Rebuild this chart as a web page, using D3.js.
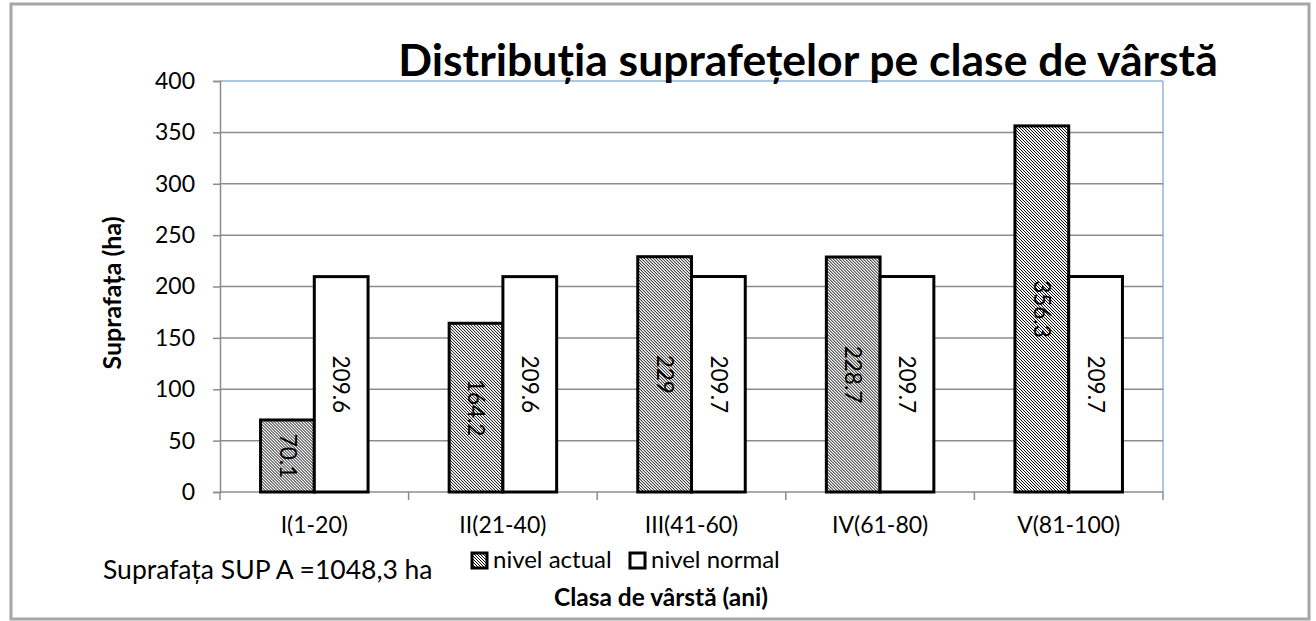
<!DOCTYPE html>
<html>
<head>
<meta charset="utf-8">
<script src="https://cdn.jsdelivr.net/npm/d3@7"></script>
<style>
  body { margin: 0; background: #fff; }
  text { font-family: Lato, "Open Sans", sans-serif; fill: #000; }
</style>
</head>
<body>
<div id="chart"></div>
<script>

// Date
var categories = ["I(1-20)", "II(21-40)", "III(41-60)", "IV(61-80)", "V(81-100)"];
var nivelActual = [70.1, 164.2, 229, 228.7, 356.3];
var nivelNormal = [209.6, 209.6, 209.7, 209.7, 209.7];
var actualLabels = ["70.1", "164.2", "229", "228.7", "356.3"];
var normalLabels = ["209.6", "209.6", "209.7", "209.7", "209.7"];
var yTicks = [0, 50, 100, 150, 200, 250, 300, 350, 400];
var seriesNames = ["nivel actual", "nivel normal"];

var width = 1316, height = 621;
var margin = { top: 81, right: 153, bottom: 129, left: 220 };

var svg = d3.select("#chart")
  .append("svg")
  .attr("width", width)
  .attr("height", height);

// hasura pentru seria "nivel actual" (diagonale fine in pixeli)
var tile = 3;
var defs = svg.append("defs");
var pat = defs.append("pattern")
  .attr("id", "hatch")
  .attr("patternUnits", "userSpaceOnUse")
  .attr("width", tile)
  .attr("height", tile);
pat.append("rect").attr("width", tile).attr("height", tile).attr("fill", "#fff");
d3.range(tile).forEach(function(i) {
  pat.append("rect")
    .attr("x", i).attr("y", i)
    .attr("width", 1).attr("height", 1)
    .attr("fill", "#000")
    .attr("shape-rendering", "crispEdges");
});

// chenarul exterior
svg.append("rect")
  .attr("x", 11).attr("y", 4)
  .attr("width", 1298).attr("height", 615)
  .attr("fill", "none")
  .attr("stroke", "#a6a6a6")
  .attr("stroke-width", 3);

var x = d3.scaleBand()
  .domain(categories)
  .range([margin.left, width - margin.right])
  .paddingInner(0.43)
  .paddingOuter(0.215);

var xSub = d3.scaleBand()
  .domain(seriesNames)
  .range([0, x.bandwidth()]);

var y = d3.scaleLinear()
  .domain([0, 400])
  .range([height - margin.bottom, margin.top]);

// zona graficului: margini albastre sus si dreapta
svg.append("line")
  .attr("x1", margin.left).attr("x2", width - margin.right)
  .attr("y1", y(400)).attr("y2", y(400))
  .attr("stroke", "#95b3d7").attr("stroke-width", 1.5);
svg.append("line")
  .attr("x1", width - margin.right).attr("x2", width - margin.right)
  .attr("y1", y(400)).attr("y2", y(0))
  .attr("stroke", "#95b3d7").attr("stroke-width", 1.5);

// linii de grila
svg.append("g")
  .selectAll("line")
  .data(yTicks.filter(function(d) { return d > 0 && d < 400; }))
  .enter()
  .append("line")
  .attr("x1", margin.left).attr("x2", width - margin.right)
  .attr("y1", function(d) { return y(d); })
  .attr("y2", function(d) { return y(d); })
  .attr("stroke", "#8c8c8c")
  .attr("stroke-width", 1.5);

// axa Y
var yAxis = svg.append("g")
  .attr("transform", "translate(" + margin.left + ",0)")
  .call(d3.axisLeft(y).tickValues(yTicks).tickSize(7).tickPadding(18));
yAxis.select(".domain").attr("stroke", "#8c8c8c").attr("stroke-width", 1.5);
yAxis.selectAll(".tick line").attr("stroke", "#8c8c8c").attr("stroke-width", 1.5);
yAxis.selectAll("text")
  .style("font-size", "23px")
  .style("font-family", "Lato, 'Open Sans', sans-serif")
  .attr("fill", "#000");

// axa X
var xAxis = svg.append("g")
  .attr("transform", "translate(0," + y(0) + ")")
  .call(d3.axisBottom(x).tickSize(0));
xAxis.select(".domain").remove();
xAxis.append("line")
  .attr("x1", margin.left).attr("x2", width - margin.right)
  .attr("stroke", "#8c8c8c").attr("stroke-width", 1.5);
xAxis.selectAll(".tick text")
  .attr("y", 41)
  .attr("dy", 0)
  .style("font-size", "23px")
  .style("font-family", "Lato, 'Open Sans', sans-serif")
  .attr("fill", "#000");

// gradatii intre categorii
var step = x.step();
var boundaries = categories.map(function(c) { return x(c) - (step - x.bandwidth()) / 2; });
boundaries.push(width - margin.right);
xAxis.selectAll(".bnd")
  .data(boundaries)
  .enter()
  .append("line")
  .attr("class", "bnd")
  .attr("x1", function(d) { return d; })
  .attr("x2", function(d) { return d; })
  .attr("y1", 0).attr("y2", 8)
  .attr("stroke", "#8c8c8c").attr("stroke-width", 1.5);

// bare
var rows = categories.map(function(c, i) {
  return [
    { cat: c, serie: seriesNames[0], value: nivelActual[i], label: actualLabels[i] },
    { cat: c, serie: seriesNames[1], value: nivelNormal[i], label: normalLabels[i] }
  ];
});

var groups = svg.append("g")
  .selectAll("g")
  .data(rows)
  .enter()
  .append("g")
  .attr("transform", function(d) { return "translate(" + x(d[0].cat) + ",0)"; });

groups.selectAll("rect")
  .data(function(d) { return d; })
  .enter()
  .append("rect")
  .attr("x", function(d) { return xSub(d.serie); })
  .attr("width", xSub.bandwidth())
  .attr("y", function(d) { return y(d.value); })
  .attr("height", function(d) { return y(0) - y(d.value); })
  .attr("fill", function(d) { return d.serie === seriesNames[0] ? "url(#hatch)" : "#fff"; })
  .attr("stroke", "#000")
  .attr("stroke-width", 3);

// etichete rotite in interiorul barelor
groups.selectAll("text")
  .data(function(d) { return d; })
  .enter()
  .append("text")
  .attr("transform", function(d) {
    var cx = xSub(d.serie) + xSub.bandwidth() / 2;
    var cy = (y(d.value) + y(0)) / 2;
    return "translate(" + cx + "," + cy + ") rotate(90)";
  })
  .attr("text-anchor", "middle")
  .attr("dy", "0.35em")
  .style("font-size", "22.5px")
  .text(function(d) { return d.label; });

// titlu
svg.append("text")
  .attr("x", 808)
  .attr("y", 76)
  .attr("text-anchor", "middle")
  .style("font-size", "44.5px")
  .style("font-weight", "bold")
  .text("Distribuția suprafețelor pe clase de vârstă");

// titlu axa Y
svg.append("text")
  .attr("transform", "translate(121,293) rotate(-90)")
  .attr("text-anchor", "middle")
  .style("font-size", "25px")
  .style("font-weight", "bold")
  .text("Suprafața (ha)");

// titlu axa X
svg.append("text")
  .attr("x", 661)
  .attr("y", 606)
  .attr("text-anchor", "middle")
  .style("font-size", "24.5px")
  .style("font-weight", "bold")
  .text("Clasa de vârstă (ani)");

// nota suprafata
svg.append("text")
  .attr("x", 103)
  .attr("y", 579)
  .style("font-size", "26.5px")
  .text("Suprafața SUP A =1048,3 ha");

// legenda
var legend = svg.append("g").attr("transform", "translate(471,551)");
var legX = [0, 158];
seriesNames.forEach(function(s, i) {
  var g = legend.append("g").attr("transform", "translate(" + legX[i] + ",0)");
  g.append("rect")
    .attr("x", 1).attr("y", 2)
    .attr("width", 15).attr("height", 15)
    .attr("fill", i === 0 ? "url(#hatch)" : "#fff")
    .attr("stroke", "#000")
    .attr("stroke-width", 3);
  g.append("text")
    .attr("x", 22)
    .attr("y", 17)
    .style("font-size", "24px")
    .text(s);
});

</script>
</body>
</html>
